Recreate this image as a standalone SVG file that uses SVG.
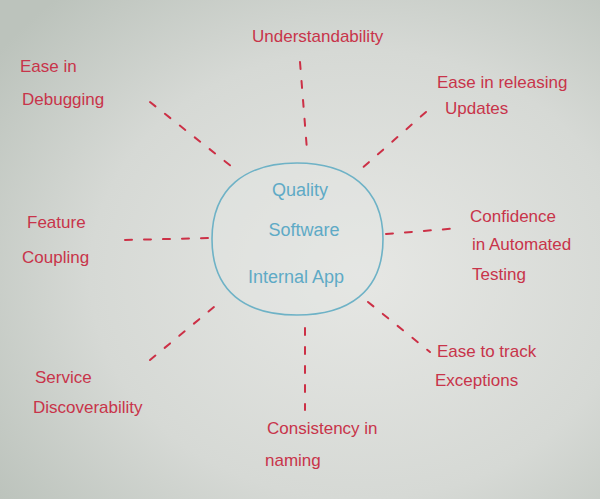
<svg xmlns="http://www.w3.org/2000/svg" width="600" height="499" viewBox="0 0 600 499">
<defs>
<radialGradient id="bg" cx="0.6" cy="0.55" r="0.75">
<stop offset="0" stop-color="#e6e7e4"/>
<stop offset="0.6" stop-color="#d6d9d5"/>
<stop offset="1" stop-color="#bcc3bc"/>
</radialGradient>
<style>
.lbl{font-family:"Liberation Sans",Arial,sans-serif;font-size:17px;fill:#c8344a;}
.ctr{font-family:"Liberation Sans",Arial,sans-serif;font-size:18px;fill:#5eaac6;text-anchor:middle;}
.con{stroke:#cc3046;stroke-width:2;fill:none;stroke-dasharray:7 12;stroke-linecap:round;}
</style>
</defs>
<rect width="600" height="499" fill="url(#bg)"/>
<g id="connectors">
<line class="con" x1="300" y1="62" x2="307" y2="150"/>
<line class="con" x1="150" y1="102" x2="236" y2="170"/>
<line class="con" x1="426" y1="112" x2="360" y2="170"/>
<line class="con" x1="125" y1="240" x2="210" y2="238"/>
<line class="con" x1="386" y1="234" x2="460" y2="228"/>
<line class="con" x1="150" y1="360" x2="220" y2="302"/>
<line class="con" x1="368" y1="302" x2="430" y2="352"/>
<line class="con" x1="305" y1="328" x2="305" y2="410"/>
</g>
<g id="center">
<path d="M297,163 C348,163 383,188 383,239 C383,292 348,315 297,315 C246,315 212,292 212,239 C212,188 246,163 297,163 Z" fill="#e3e5e3" fill-opacity="0.4" stroke="#6eb2c6" stroke-width="1.6"/>
<text class="ctr" x="300" y="196">Quality</text>
<text class="ctr" x="304" y="236">Software</text>
<text class="ctr" x="296" y="283">Internal App</text>
</g>
<g id="understandability"><text class="lbl" x="252" y="42">Understandability</text></g>
<g id="debugging"><text class="lbl" x="20" y="72">Ease in</text><text class="lbl" x="22" y="105">Debugging</text></g>
<g id="releasing"><text class="lbl" x="437" y="88">Ease in releasing</text><text class="lbl" x="445" y="114">Updates</text></g>
<g id="coupling"><text class="lbl" x="27" y="228">Feature</text><text class="lbl" x="22" y="263">Coupling</text></g>
<g id="testing"><text class="lbl" x="470" y="222">Confidence</text><text class="lbl" x="472" y="250">in Automated</text><text class="lbl" x="472" y="280">Testing</text></g>
<g id="discoverability"><text class="lbl" x="35" y="383">Service</text><text class="lbl" x="33" y="413">Discoverability</text></g>
<g id="exceptions"><text class="lbl" x="437" y="357">Ease to track</text><text class="lbl" x="435" y="386">Exceptions</text></g>
<g id="naming"><text class="lbl" x="267" y="434">Consistency in</text><text class="lbl" x="265" y="466">naming</text></g>
</svg>
